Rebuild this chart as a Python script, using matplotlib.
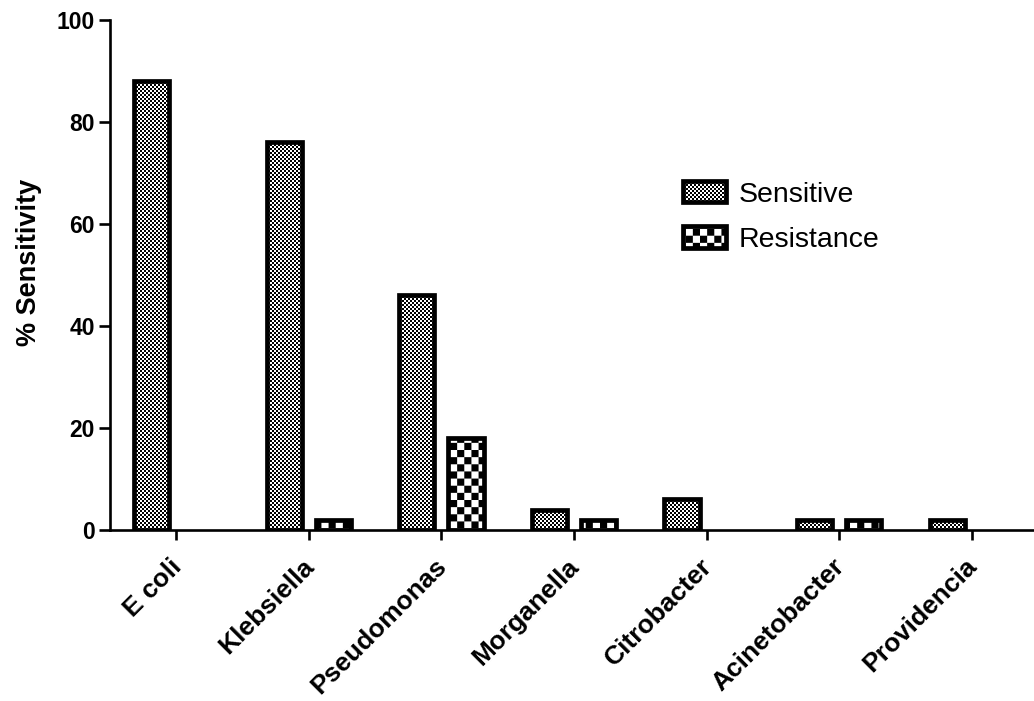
import numpy as np
import matplotlib
matplotlib.use("Agg")
import matplotlib.pyplot as plt
import matplotlib.transforms as mtransforms
from matplotlib import hatch as mhatch
from matplotlib.path import Path

# ---------------- data ----------------
categories = ["E coli", "Klebsiella", "Pseudomonas", "Morganella",
              "Citrobacter", "Acinetobacter", "Providencia"]
sensitive = [88, 76, 46, 4, 6, 2, 2]
resistance = [0, 2, 18, 2, 0, 2, 0]
series_labels = ["Sensitive", "Resistance"]
yticks = [0, 20, 40, 60, 80, 100]


# ---------------- checkerboard hatch patterns ----------------
class _Checker(mhatch.HatchPatternBase):
    char = "o"
    n = 50

    def __init__(self, hatch, density):
        active = hatch is not None and self.char in hatch
        if active:
            self.cells = [(i, j) for i in range(self.n) for j in range(self.n)
                          if (i + j) % 2 == 0]
        else:
            self.cells = []
        self.num_vertices = len(self.cells) * 5

    def set_vertices_and_codes(self, vertices, codes):
        s = 1.0 / self.n
        k = 0
        for i, j in self.cells:
            x0, y0 = i * s, j * s
            vertices[k:k + 5] = [(x0, y0), (x0 + s, y0), (x0 + s, y0 + s),
                                 (x0, y0 + s), (x0, y0)]
            codes[k:k + 5] = [Path.MOVETO, Path.LINETO, Path.LINETO,
                              Path.LINETO, Path.CLOSEPOLY]
            k += 5


class FineChecker(_Checker):
    char = "o"
    n = 50


class CoarseChecker(_Checker):
    char = "O"
    n = 14


mhatch._hatch_types[:] = [FineChecker, CoarseChecker]
plt.rcParams["hatch.linewidth"] = 0.0
plt.rcParams["hatch.color"] = "black"

plt.rcParams["font.family"] = ["Liberation Sans", "DejaVu Sans"]

# ---------------- figure ----------------
fig = plt.figure(figsize=(10.34, 7.01), dpi=100)
ax = fig.add_axes([110 / 1034, 171 / 701, 1 - 110 / 1034, 510 / 701])

x = np.arange(len(categories))
width = 0.265
off = 0.185
EDGE = 3.4
lw_s = [0 if v == 0 else EDGE for v in sensitive]
lw_r = [0 if v == 0 else EDGE for v in resistance]

ax.bar(x - off, sensitive, width, color="white", edgecolor="black",
       hatch="o", linewidth=lw_s, label=series_labels[0], zorder=2)
ax.bar(x + off, resistance, width, color="white", edgecolor="black",
       hatch="O", linewidth=lw_r, label=series_labels[1], zorder=2)

ax.set_xlim(-0.5, 6.47)
ax.set_ylim(0, 100)
ax.set_yticks(yticks)
ax.set_xticks(x)
ax.tick_params(axis="y", labelsize=16.5, length=8, width=1.9, pad=3)
ax.tick_params(axis="x", length=7.5, width=1.9, pad=10)
ax.set_xticklabels(categories, rotation=45, ha="right", va="top",
                   rotation_mode="anchor", fontsize=19, fontweight="bold")
for lab in ax.get_yticklabels():
    lab.set_fontweight("bold")
shift = mtransforms.ScaledTranslation(-7 / 100, 0 / 100, fig.dpi_scale_trans)
for lab in ax.get_xticklabels():
    lab.set_transform(lab.get_transform() + shift)

for side in ["top", "right"]:
    ax.spines[side].set_visible(False)
for side in ["left", "bottom"]:
    ax.spines[side].set_linewidth(1.9)

ax.set_ylabel("% Sensitivity", fontsize=19.5, fontweight="bold")
ax.yaxis.set_label_coords(-0.074, 0.525)

leg = ax.legend(loc="upper left", bbox_to_anchor=(683 / 1034, 1 - 181 / 701),
                bbox_transform=fig.transFigure, frameon=False, fontsize=20.5,
                handlelength=1.5, handleheight=0.78, handletextpad=0.45,
                labelspacing=0.66, borderpad=0, borderaxespad=0)
for p in leg.get_patches():
    p.set_linewidth(EDGE)

fig.savefig("out.png", dpi=100)
